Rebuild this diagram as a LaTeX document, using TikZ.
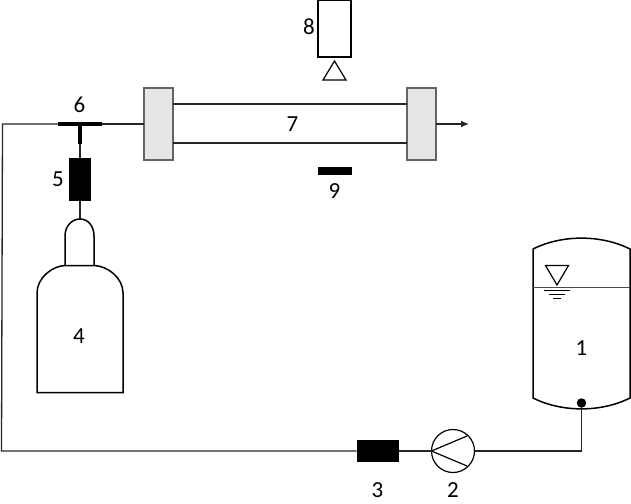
\documentclass[tikz,border=0pt]{standalone}
\usepackage{fontspec}
\setmainfont{Carlito}
\usepackage{xcolor}
\usetikzlibrary{arrows.meta}
\usetikzlibrary{positioning}
\usetikzlibrary{calc}
\definecolor{flangegray}{RGB}{230,230,230}
\definecolor{edgegray}{RGB}{100,100,100}
\tikzset{
  vessel/.style={draw=black,line width=1.5pt},
  pipe/.style={draw=black!85,line width=1.3pt},
  tee/.style={draw=black,line width=3.5pt},
  blackbox/.style={rectangle,fill=black,inner sep=0pt,outer sep=0pt},
  flange/.style={rectangle,draw=edgegray,line width=1.3pt,fill=flangegray,inner sep=0pt,outer sep=0pt,minimum width=29pt,minimum height=72pt},
  numlabel/.style={inner sep=0pt,font=\fontsize{23}{26}\selectfont}
}

\begin{document}
\begin{tikzpicture}[x=1pt,y=-1pt]
      \useasboundingbox (0,0) rectangle (631,503);
      % column
      \node[flange] (flangeL) at (158.5,124) {};
      \node[flange] (flangeR) at (421.5,124) {};
      \path[pipe] ($(flangeL.east)+(0,-20)$) -- ($(flangeR.west)+(0,-20)$);
      \path[pipe] ($(flangeL.east)+(0,19)$) -- ($(flangeR.west)+(0,19)$);
      \coordinate (outlet) at (469,124);
      \path (flangeR.east) edge[pipe, -{Latex[length=8pt,width=7pt]}] (outlet);
      % detector and source
      \node[rectangle, draw=black, line width=1.3pt, inner sep=0pt, minimum width=33pt, minimum height=56.5pt] (detector) at (334.5,28.75) {};
      \draw[vessel, line width=1.2pt] (334.5,61) -- (346,80) -- (323,80) -- cycle;
      \node[blackbox, minimum width=34pt, minimum height=8pt] (lamp) at (335,171) {};
      % gas line
      \node[blackbox, minimum width=22pt, minimum height=43pt] (filter) at (80,179) {};
      \coordinate (teeL) at (58,124);
      \coordinate (teeR) at (102,124);
      \coordinate (teeM) at (80,124);
      \coordinate (teeS) at (80,144);
      \coordinate (neck) at (80,219);
      \draw[tee] (teeL) -- (teeR);
      \draw[tee] (teeM) -- (teeS);
      \path[pipe] (teeS) -- (filter.north);
      \path[pipe] (filter.south) -- (neck);
      % gas bottle
      \draw[vessel] (65,265.5) -- (65,236) .. controls (65,226) and (72,219) .. (neck) .. controls (88,219) and (94,226) .. (94,236) -- (94,265.5);
      \draw[vessel] (37,392.5) -- (37,293) .. controls (37,278) and (52,266) .. (65,265.5) -- (94,265.5) .. controls (108,266) and (123,278) .. (123,293) -- (123,392.5) -- cycle;
      % tank
      \draw[vessel] (533,249) .. controls (562,234.5) and (601,234.5) .. (630,249) -- (630,398) .. controls (601,412.5) and (562,412.5) .. (533,398) -- cycle;
      \draw[draw=black!70, line width=0.9pt] (533,287) -- (630,287);
      \draw[vessel, line width=1.2pt] (545.5,265.5) -- (568.5,265.5) -- (557,285) -- cycle;
      \draw[line width=0.7pt] (544,290.5) -- (570,290.5);
      \draw[line width=0.7pt] (549,294.5) -- (565,294.5);
      \draw[line width=0.7pt] (553,298) -- (561,298);
      \node[circle, fill=black, inner sep=0pt, minimum size=9.5pt] (outletdot) at (581.5,403) {};
      % liquid line
      \node[circle, draw=black, line width=1.2pt, inner sep=0pt, outer sep=0pt, minimum size=43pt] (pump) at (453,451) {};
      \draw[line width=1.2pt] (467,436) -- (pump.west) -- (467,466);
      \node[blackbox, minimum width=42pt, minimum height=22pt] (meter) at (377.5,451) {};
      \coordinate (cornerB) at (1.5,451);
      \coordinate (cornerT) at (2.5,124);
      \path[pipe] (outletdot) |- (pump.east);
      \path[pipe] (pump.west) -- (meter.east);
      \path[pipe] (meter.west) -- (cornerB) -- (cornerT) -- (teeL);
      \path[pipe] (teeR) -- (flangeL.west);
      % numbers
      \begin{scope}[every node/.style={numlabel}]
        \node (n1) at (581.5,348) {1};
        \node (n2) at (453,490) {2};
        \node (n3) at (377.5,490) {3};
        \node (n4) at (79,336) {4};
        \node (n5) at (58,179) {5};
        \node (n6) at (79.5,105) {6};
        \node (n7) at (292.5,124.5) {7};
        \node (n8) at (309,26.5) {8};
        \node (n9) at (334.5,191.5) {9};
      \end{scope}
    \end{tikzpicture}
\end{document}
